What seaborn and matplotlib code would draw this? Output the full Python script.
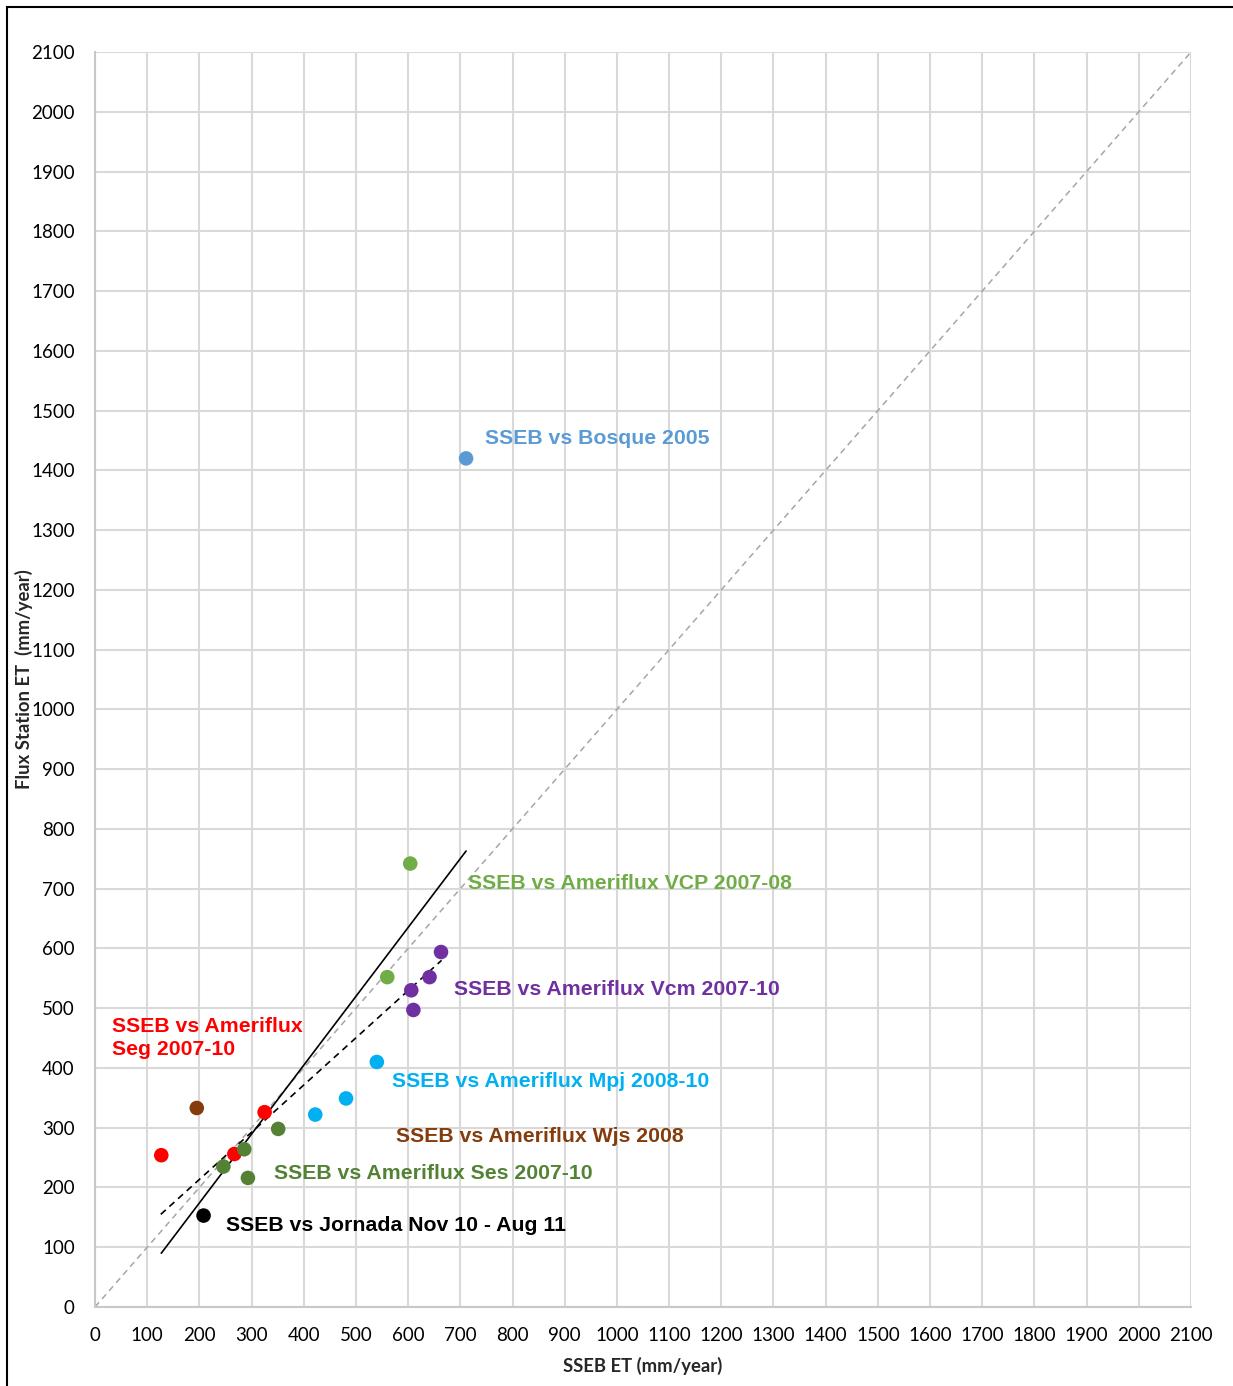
import matplotlib
matplotlib.use("Agg")
import matplotlib.pyplot as plt
import seaborn as sns
import pandas as pd
from matplotlib.patches import Rectangle
from matplotlib.ticker import MultipleLocator

# Annual ET per site: SSEB model estimate vs flux-tower measurement (mm/year)
bosque_x = [711]
bosque_y = [1420]
vcp_x = [604, 560]
vcp_y = [742, 552]
vcm_x = [663, 641, 606, 610]
vcm_y = [594, 552, 530, 497]
seg_x = [127, 267, 325]
seg_y = [254, 256, 326]
mpj_x = [540, 481, 422]
mpj_y = [410, 349, 322]
wjs_x = [195]
wjs_y = [333]
ses_x = [246, 286, 351, 293]
ses_y = [235, 264, 298, 216]
jornada_x = [208]
jornada_y = [153]

# Fitted trend lines (end points) and the 1:1 reference
trend_solid_x = [127, 711]
trend_solid_y = [90, 763]
trend_dash_x = [126, 664]
trend_dash_y = [155, 580]
one_to_one = [0, 2100]

series = [
    ("Bosque", bosque_x, bosque_y, "#5B9BD5"),
    ("VCP", vcp_x, vcp_y, "#70AD47"),
    ("Vcm", vcm_x, vcm_y, "#7030A0"),
    ("Seg", seg_x, seg_y, "#FF0000"),
    ("Mpj", mpj_x, mpj_y, "#00B0F0"),
    ("Wjs", wjs_x, wjs_y, "#843C0C"),
    ("Ses", ses_x, ses_y, "#548235"),
    ("Jornada", jornada_x, jornada_y, "#000000"),
]

rows = []
for name, xs, ys, _ in series:
    for x, y in zip(xs, ys):
        rows.append({"site": name, "sseb": x, "flux": y})
df = pd.DataFrame(rows)
palette = {name: c for name, _, _, c in series}

# Site captions: text, x, y, colour
labels = [
    ("SSEB vs Bosque 2005", 748, 1453, "#5B9BD5"),
    ("SSEB vs Ameriflux VCP 2007-08", 715, 708, "#70AD47"),
    ("SSEB vs Ameriflux Vcm 2007-10", 688, 532, "#7030A0"),
    ("SSEB vs Ameriflux\nSeg 2007-10", 33, 450, "#FF0000"),
    ("SSEB vs Ameriflux Mpj 2008-10", 569, 378, "#00B0F0"),
    ("SSEB vs Ameriflux Wjs 2008", 577, 285, "#843C0C"),
    ("SSEB vs Ameriflux Ses 2007-10", 343, 223, "#548235"),
    ("SSEB vs Jornada Nov 10 - Aug 11", 251, 137, "#000000"),
]

sns.set_theme(style="white")
plt.rcParams["font.family"] = ["Lato", "DejaVu Sans"]

fig = plt.figure(figsize=(12.33, 13.86), dpi=100)
ax = fig.add_axes([95 / 1233, 1 - 1307 / 1386, (1191 - 95) / 1233, (1307 - 52) / 1386])

ax.set_xlim(0, 2100)
ax.set_ylim(0, 2100)
ax.xaxis.set_major_locator(MultipleLocator(100))
ax.yaxis.set_major_locator(MultipleLocator(100))
ax.xaxis.set_minor_locator(MultipleLocator(50))
ax.yaxis.set_minor_locator(MultipleLocator(50))
ax.grid(True, which="major", color="#D9D9D9", linewidth=1.5, zorder=0)
ax.set_axisbelow(True)
for side in ["top", "right"]:
    ax.spines[side].set_visible(False)
for side in ["left", "bottom"]:
    ax.spines[side].set_color("#C8C8C8")
    ax.spines[side].set_linewidth(1.5)
ax.tick_params(which="major", length=4, width=1.2, color="#C8C8C8", direction="inout",
               labelsize=13.5, labelcolor="black", pad=12.5)
ax.tick_params(which="minor", length=4, width=1.2, color="#C8C8C8", direction="in")

ax.plot(one_to_one, one_to_one, color="#A6A6A6", linestyle=(0, (4, 3)), linewidth=1.1, zorder=1)
ax.plot(trend_solid_x, trend_solid_y, color="black", linewidth=1.2, zorder=2)
ax.plot(trend_dash_x, trend_dash_y, color="black", linestyle=(0, (4, 3)), linewidth=1.2, zorder=2)

sns.scatterplot(data=df, x="sseb", y="flux", hue="site", palette=palette, s=110,
                edgecolor="none", legend=False, ax=ax, zorder=3)

for text, x, y, c in labels:
    ax.text(x, y, text, color=c, fontsize=15.3, fontweight="bold",
            family=["Liberation Sans", "DejaVu Sans"], ha="left", va="center",
            linespacing=1.3, zorder=4)

ax.set_xlabel("SSEB ET (mm/year)", fontsize=13.3, fontweight="bold")
ax.set_ylabel("Flux Station ET  (mm/year)", fontsize=13.3, fontweight="bold")
ax.xaxis.set_label_coords(0.5, -(1366 - 1307) / 1255, transform=ax.transAxes)
ax.xaxis.label.set_va("center")
ax.yaxis.set_label_coords(-(95 - 24) / 1096, 0.5, transform=ax.transAxes)
ax.yaxis.label.set_ha("center")
ax.yaxis.label.set_va("center")

# outer frame of the chart area
fig.patches.append(Rectangle((7 / 1233, -0.05), 1.2, 1 - 7 / 1386 + 0.05,
                             transform=fig.transFigure, fill=False,
                             edgecolor="black", linewidth=1.5))

fig.savefig("out.png", dpi=100)
